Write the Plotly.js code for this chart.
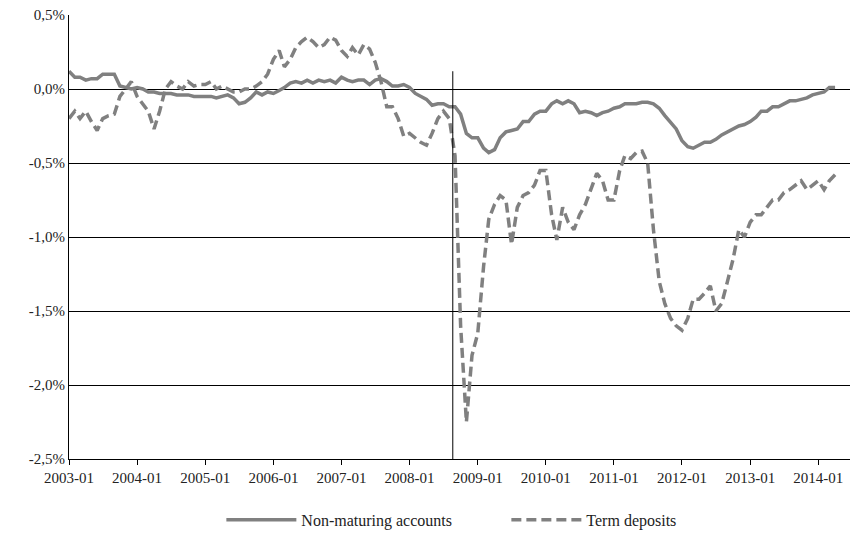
<!DOCTYPE html>
<html>
<head>
<meta charset="utf-8">
<script src="https://cdn.plot.ly/plotly-3.0.1.min.js"></script>
<style>body{margin:0;background:#fff}#chart{width:854px;height:540px}</style>
</head>
<body>
<div id="chart"></div>
<script>
// monthly values, % (start 2003-01)
const nonMaturing = [
  0.12,0.08,0.08,0.06,0.07,0.07,0.10,0.10,0.10,0.02,0.01,0.00,
  0.01,0.00,-0.02,-0.02,-0.03,-0.03,-0.03,-0.04,-0.04,-0.04,-0.05,-0.05,
  -0.05,-0.05,-0.06,-0.05,-0.04,-0.06,-0.10,-0.09,-0.06,-0.02,-0.04,-0.02,
  -0.03,-0.01,0.01,0.04,0.05,0.04,0.06,0.04,0.06,0.05,0.06,0.04,
  0.08,0.06,0.05,0.06,0.06,0.03,0.06,0.07,0.05,0.02,0.02,0.03,
  0.01,-0.03,-0.05,-0.07,-0.11,-0.10,-0.10,-0.12,-0.12,-0.17,-0.30,-0.33,
  -0.33,-0.40,-0.43,-0.41,-0.33,-0.29,-0.28,-0.27,-0.22,-0.22,-0.17,-0.15,
  -0.15,-0.10,-0.08,-0.10,-0.08,-0.10,-0.16,-0.15,-0.16,-0.18,-0.16,-0.15,
  -0.13,-0.12,-0.10,-0.10,-0.10,-0.09,-0.09,-0.10,-0.13,-0.18,-0.23,-0.27,
  -0.35,-0.39,-0.40,-0.38,-0.36,-0.36,-0.34,-0.31,-0.29,-0.27,-0.25,-0.24,
  -0.22,-0.19,-0.15,-0.15,-0.12,-0.12,-0.10,-0.08,-0.08,-0.07,-0.06,-0.04,
  -0.03,-0.02,0.01,0.01
];
const termDeposits = [
  -0.20,-0.15,-0.20,-0.15,-0.22,-0.28,-0.20,-0.18,-0.17,-0.05,0.00,0.05,
  -0.05,-0.10,-0.15,-0.27,-0.15,0.00,0.05,0.02,0.00,0.05,0.02,0.03,
  0.03,0.05,0.00,0.02,0.00,-0.02,-0.02,0.00,0.00,0.02,0.05,0.10,
  0.20,0.26,0.15,0.20,0.28,0.32,0.35,0.32,0.28,0.30,0.35,0.33,
  0.26,0.22,0.28,0.23,0.30,0.27,0.18,0.05,-0.12,-0.12,-0.20,-0.32,
  -0.30,-0.33,-0.36,-0.38,-0.30,-0.20,-0.15,-0.20,-0.45,-1.60,-2.25,-1.80,
  -1.65,-1.20,-0.88,-0.78,-0.72,-0.75,-1.05,-0.80,-0.72,-0.70,-0.65,-0.55,
  -0.55,-0.85,-1.02,-0.80,-0.90,-0.95,-0.85,-0.78,-0.67,-0.57,-0.62,-0.75,
  -0.75,-0.55,-0.45,-0.47,-0.43,-0.42,-0.50,-0.95,-1.30,-1.45,-1.55,-1.60,
  -1.63,-1.55,-1.42,-1.42,-1.38,-1.33,-1.50,-1.45,-1.30,-1.15,-0.95,-1.00,
  -0.90,-0.85,-0.85,-0.80,-0.75,-0.75,-0.70,-0.68,-0.65,-0.62,-0.68,-0.65,
  -0.62,-0.68,-0.62,-0.58
];
const yTicks = [0.5, 0, -0.5, -1, -1.5, -2, -2.5];
const yLabels = ['0,5%', '0,0%', '-0,5%', '-1,0%', '-1,5%', '-2,0%', '-2,5%'];
const eventDate = '2008-08-20';

function monthDates(n) {
  const out = [];
  for (let i = 0; i < n; i++) {
    const y = 2003 + Math.floor(i / 12), m = (i % 12) + 1;
    out.push(y + '-' + String(m).padStart(2, '0') + '-01');
  }
  return out;
}

const grey = '#808080';
const data = [
  { x: monthDates(nonMaturing.length), y: nonMaturing, name: 'Non-maturing accounts',
    type: 'scatter', mode: 'lines', line: { color: grey, width: 3.5 } },
  { x: monthDates(termDeposits.length), y: termDeposits, name: 'Term deposits',
    type: 'scatter', mode: 'lines', line: { color: grey, width: 3.5, dash: '10px,5px' } }
];

const layout = {
  width: 854, height: 540,
  paper_bgcolor: '#fff', plot_bgcolor: '#fff',
  font: { family: 'Liberation Serif, serif', size: 15, color: '#222' },
  margin: { l: 69, r: 4, t: 15, b: 81, autoexpand: false },
  showlegend: true,
  legend: { orientation: 'h', x: 0.56, xanchor: 'center', y: -0.137, yanchor: 'middle',
    font: { size: 16 }, itemwidth: 70, entrywidth: 200, entrywidthmode: 'pixels' },
  xaxis: {
    type: 'date', range: ['2003-01-01', '2014-06-20'],
    tick0: '2003-01-01', dtick: 'M12', tickformat: '%Y-%m',
    showgrid: false, zeroline: false, showline: true, linecolor: '#000', linewidth: 1,
    ticks: 'outside', ticklen: 5, tickcolor: '#000'
  },
  yaxis: {
    range: [-2.5, 0.5], tickvals: yTicks, ticktext: yLabels,
    showgrid: true, gridcolor: '#000', gridwidth: 1, zeroline: false,
    showline: true, linecolor: '#000', linewidth: 1
  },
  shapes: [{ type: 'line', xref: 'x', yref: 'y', x0: eventDate, x1: eventDate,
    y0: -2.5, y1: 0.12, line: { color: '#000', width: 1 } }]
};

Plotly.newPlot('chart', data, layout, { displayModeBar: false, staticPlot: true });
</script>
</body>
</html>
